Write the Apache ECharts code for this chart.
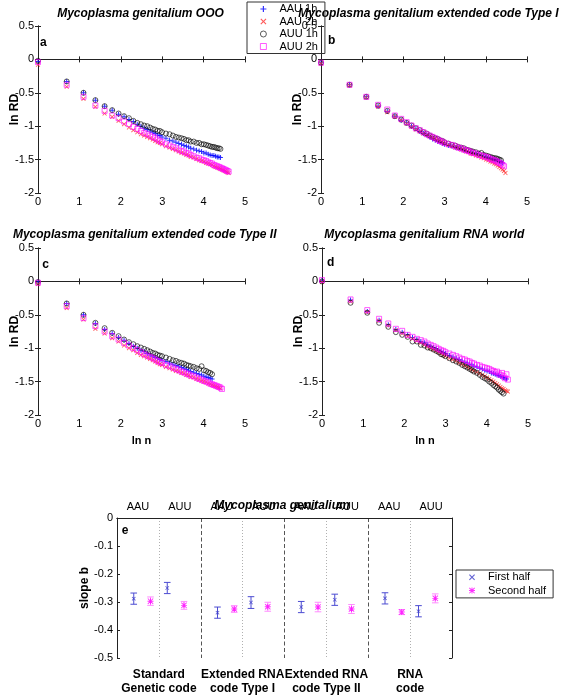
<!DOCTYPE html>
<html><head><meta charset="utf-8">
<script src="https://cdn.jsdelivr.net/npm/echarts@6/dist/echarts.min.js"></script>
<style>html,body{margin:0;padding:0;background:#fff}#c{width:561px;height:696px}</style>
</head><body><div id="c"></div>
<script>
const FONT = '"Liberation Sans", Arial, Helvetica, sans-serif';

// x values: ln n
const lnN = [0,0.693,1.099,1.386,1.609,1.792,1.946,2.079,2.197,2.303,2.398,2.485,2.565,2.639,2.708,2.773,2.833,2.890,2.944,2.996,3.091,3.178,3.258,3.332,3.401,3.466,3.526,3.584,3.638,3.689,3.761,3.829,3.892,3.951,4.007,4.060,4.111,4.159,4.205,4.248,4.290,4.331,4.369,4.407,4.443,4.477,4.511,4.543,4.575,4.605];

// panel a
const a_AAU1h = [-0.03,-0.33,-0.50,-0.61,-0.70,-0.76,-0.82,-0.86,-0.90,-0.93,-0.97,-1.00,-1.03,-1.05,-1.07,-1.09,-1.11,-1.13,-1.14,-1.16,-1.18,-1.21,-1.22,-1.24,-1.26,-1.27,-1.29,-1.30,-1.31,-1.33,-1.34,-1.36,-1.37,-1.38,-1.40,-1.40,-1.42,-1.43,-1.44,-1.44,-1.45,-1.46,-1.46,-1.47];
const a_AAU2h = [-0.08,-0.41,-0.59,-0.71,-0.81,-0.86,-0.92,-0.97,-1.02,-1.06,-1.09,-1.12,-1.14,-1.16,-1.18,-1.20,-1.22,-1.24,-1.25,-1.27,-1.30,-1.32,-1.34,-1.36,-1.38,-1.40,-1.41,-1.43,-1.44,-1.46,-1.47,-1.49,-1.51,-1.52,-1.53,-1.55,-1.56,-1.57,-1.58,-1.60,-1.61,-1.62,-1.63,-1.64,-1.65,-1.66,-1.67,-1.68,-1.69,-1.70];
const a_AUU1h = [-0.02,-0.33,-0.50,-0.61,-0.70,-0.76,-0.81,-0.85,-0.88,-0.92,-0.95,-0.97,-0.99,-1.00,-1.02,-1.04,-1.05,-1.07,-1.07,-1.09,-1.11,-1.12,-1.14,-1.16,-1.17,-1.18,-1.19,-1.21,-1.21,-1.23,-1.23,-1.25,-1.25,-1.27,-1.27,-1.28,-1.29,-1.30,-1.31,-1.31,-1.32,-1.33,-1.33,-1.34];
const a_AUU2h = [-0.04,-0.38,-0.56,-0.69,-0.77,-0.84,-0.88,-0.93,-0.97,-1.01,-1.04,-1.07,-1.10,-1.12,-1.14,-1.16,-1.18,-1.20,-1.22,-1.24,-1.27,-1.29,-1.31,-1.33,-1.35,-1.37,-1.38,-1.40,-1.41,-1.43,-1.45,-1.47,-1.48,-1.50,-1.51,-1.52,-1.54,-1.55,-1.56,-1.58,-1.59,-1.60,-1.61,-1.62,-1.63,-1.64,-1.65,-1.66,-1.67,-1.68];
// panel b
const b_AAU1h = [-0.05,-0.38,-0.56,-0.70,-0.78,-0.85,-0.91,-0.95,-1.00,-1.04,-1.08,-1.11,-1.13,-1.16,-1.19,-1.21,-1.23,-1.24,-1.26,-1.27,-1.29,-1.30,-1.32,-1.33,-1.34,-1.36,-1.37,-1.38,-1.39,-1.40,-1.41,-1.43,-1.44,-1.45,-1.46,-1.47,-1.48,-1.49,-1.50,-1.51,-1.52,-1.53,-1.54,-1.55];
const b_AAU2h = [-0.06,-0.39,-0.57,-0.71,-0.79,-0.86,-0.91,-0.96,-1.01,-1.05,-1.08,-1.11,-1.13,-1.15,-1.17,-1.19,-1.21,-1.23,-1.24,-1.26,-1.28,-1.30,-1.32,-1.33,-1.35,-1.36,-1.38,-1.39,-1.41,-1.42,-1.44,-1.45,-1.47,-1.48,-1.50,-1.51,-1.53,-1.54,-1.56,-1.57,-1.59,-1.61,-1.63,-1.65,-1.67,-1.70];
const b_AUU1h = [-0.05,-0.38,-0.56,-0.69,-0.77,-0.85,-0.90,-0.95,-0.99,-1.03,-1.06,-1.09,-1.11,-1.14,-1.16,-1.18,-1.19,-1.21,-1.22,-1.24,-1.26,-1.28,-1.29,-1.31,-1.32,-1.33,-1.35,-1.36,-1.37,-1.38,-1.39,-1.41,-1.40,-1.43,-1.44,-1.45,-1.46,-1.47,-1.48,-1.48,-1.49,-1.50,-1.51];
const b_AUU2h = [-0.05,-0.38,-0.56,-0.68,-0.75,-0.84,-0.89,-0.94,-0.99,-1.03,-1.06,-1.09,-1.12,-1.14,-1.16,-1.18,-1.20,-1.22,-1.23,-1.25,-1.27,-1.28,-1.30,-1.32,-1.33,-1.35,-1.36,-1.37,-1.39,-1.40,-1.41,-1.43,-1.44,-1.45,-1.46,-1.47,-1.49,-1.50,-1.51,-1.52,-1.54,-1.55,-1.56,-1.58,-1.60];
// panel c
const c_AAU1h = [-0.01,-0.33,-0.50,-0.63,-0.72,-0.78,-0.84,-0.88,-0.93,-0.97,-1.00,-1.03,-1.05,-1.08,-1.10,-1.12,-1.14,-1.15,-1.17,-1.18,-1.20,-1.22,-1.24,-1.26,-1.27,-1.29,-1.30,-1.32,-1.33,-1.35,-1.36,-1.38,-1.39,-1.40,-1.42,-1.43,-1.44,-1.45,-1.46];
const c_AAU2h = [-0.04,-0.40,-0.57,-0.71,-0.78,-0.85,-0.90,-0.96,-1.00,-1.03,-1.07,-1.10,-1.12,-1.14,-1.16,-1.18,-1.20,-1.22,-1.24,-1.25,-1.28,-1.30,-1.32,-1.34,-1.35,-1.37,-1.38,-1.40,-1.41,-1.43,-1.44,-1.46,-1.47,-1.49,-1.50,-1.51,-1.53,-1.54,-1.55,-1.56,-1.57,-1.58,-1.59,-1.60];
const c_AUU1h = [-0.01,-0.33,-0.50,-0.62,-0.70,-0.77,-0.82,-0.87,-0.91,-0.94,-0.97,-0.99,-1.01,-1.03,-1.05,-1.07,-1.08,-1.10,-1.11,-1.12,-1.14,-1.16,-1.18,-1.19,-1.21,-1.22,-1.23,-1.25,-1.26,-1.27,-1.28,-1.30,-1.31,-1.27,-1.33,-1.34,-1.36,-1.37,-1.39];
const c_AUU2h = [-0.02,-0.37,-0.55,-0.67,-0.75,-0.82,-0.87,-0.92,-0.96,-1.00,-1.03,-1.06,-1.09,-1.11,-1.13,-1.15,-1.17,-1.19,-1.21,-1.22,-1.25,-1.27,-1.29,-1.31,-1.33,-1.35,-1.36,-1.38,-1.39,-1.41,-1.42,-1.44,-1.46,-1.47,-1.49,-1.50,-1.51,-1.53,-1.54,-1.55,-1.56,-1.57,-1.58,-1.59,-1.61];
// panel d
const d_AAU1h = [0.01,-0.28,-0.45,-0.58,-0.65,-0.72,-0.76,-0.80,-0.84,-0.87,-0.90,-0.92,-0.95,-0.97,-0.99,-1.01,-1.03,-1.05,-1.06,-1.08,-1.11,-1.13,-1.15,-1.17,-1.19,-1.21,-1.22,-1.24,-1.25,-1.27,-1.28,-1.30,-1.31,-1.33,-1.34,-1.35,-1.37,-1.38,-1.39,-1.40,-1.41,-1.42,-1.43,-1.44,-1.45,-1.46];
const d_AAU2h = [-0.01,-0.30,-0.46,-0.59,-0.66,-0.73,-0.78,-0.82,-0.86,-0.89,-0.92,-0.95,-0.98,-1.00,-1.02,-1.04,-1.06,-1.08,-1.10,-1.12,-1.15,-1.17,-1.19,-1.22,-1.24,-1.26,-1.28,-1.30,-1.32,-1.34,-1.36,-1.38,-1.40,-1.42,-1.44,-1.46,-1.48,-1.50,-1.52,-1.54,-1.56,-1.58,-1.60,-1.61,-1.63,-1.64,-1.65];
const d_AUU1h = [0.00,-0.32,-0.47,-0.62,-0.68,-0.76,-0.80,-0.83,-0.90,-0.90,-0.95,-0.96,-0.99,-1.00,-1.02,-1.04,-1.06,-1.09,-1.10,-1.12,-1.15,-1.18,-1.20,-1.22,-1.25,-1.27,-1.29,-1.31,-1.33,-1.35,-1.37,-1.40,-1.43,-1.45,-1.47,-1.50,-1.52,-1.55,-1.57,-1.59,-1.62,-1.64,-1.66,-1.68];
const d_AUU2h = [0.02,-0.27,-0.43,-0.56,-0.63,-0.71,-0.74,-0.80,-0.83,-0.86,-0.88,-0.90,-0.93,-0.95,-0.97,-0.99,-1.01,-1.03,-1.04,-1.06,-1.08,-1.10,-1.12,-1.14,-1.16,-1.17,-1.19,-1.20,-1.22,-1.23,-1.25,-1.26,-1.28,-1.29,-1.30,-1.31,-1.33,-1.34,-1.36,-1.35,-1.38,-1.40,-1.37,-1.42,-1.45,-1.39,-1.47];

const panelTitles = ['Mycoplasma genitalium OOO','Mycoplasma genitalium extended code Type I','Mycoplasma genitalium extended code Type II','Mycoplasma genitalium RNA world'];
const panelLetters = ['a','b','c','d','e'];
const seriesNames = ['AAU 1h','AAU 2h','AUU 1h','AUU 2h'];
const panelData = [
  [a_AAU1h, a_AAU2h, a_AUU1h, a_AUU2h],
  [b_AAU1h, b_AAU2h, b_AUU1h, b_AUU2h],
  [c_AAU1h, c_AAU2h, c_AUU1h, c_AUU2h],
  [d_AAU1h, d_AAU2h, d_AUU1h, d_AUU2h]
];
const xTicksLnN = [0,1,2,3,4,5];

// panel e: slope b
const eSubLabels = ['AAU','AUU','AAU','AUU','AAU','AUU','AAU','AUU'];
const eGroupLabels = ['Standard\nGenetic code','Extended RNA\ncode Type I','Extended RNA\ncode Type II','RNA\ncode'];
const eFirstX = [0.4,1.2,2.4,3.2,4.4,5.2,6.4,7.2];
const eFirstVal = [-0.288,-0.250,-0.338,-0.302,-0.318,-0.292,-0.287,-0.333];
const eFirstErr = [0.020,0.020,0.020,0.021,0.020,0.020,0.020,0.020];
const eSecondX = [0.8,1.6,2.8,3.6,4.8,5.6,6.8,7.6];
const eSecondVal = [-0.297,-0.312,-0.325,-0.317,-0.318,-0.325,-0.336,-0.287];
const eSecondErr = [0.015,0.014,0.012,0.016,0.017,0.016,0.009,0.016];

const PLUS = 'path://M4,0H6V4H10V6H6V10H4V6H0V4H4Z';
const CROSS = 'path://M0,1.3L1.3,0L5,3.7L8.7,0L10,1.3L6.3,5L10,8.7L8.7,10L5,6.3L1.3,10L0,8.7L3.7,5Z';
const STAR = 'path://M4.2,0H5.8V4.2H10V5.8H5.8V10H4.2V5.8H0V4.2H4.2Z M0,1.1 L1.1,0 L10,8.9 L8.9,10Z M8.9,0 L10,1.1 L1.1,10 L0,8.9Z';
const TRANSP = 'rgba(0,0,0,0)';
const RED = '#ff3030';
const sStyles = [
  {symbol: PLUS, symbolSize: 5, itemStyle: {color: '#0000ff'}},
  {symbol: CROSS, symbolSize: 4.5, itemStyle: {color: RED}},
  {symbol: 'circle', symbolSize: 5, itemStyle: {color: TRANSP, borderColor: '#000', borderWidth: 0.8}},
  {symbol: 'rect', symbolSize: 5, itemStyle: {color: TRANSP, borderColor: '#ff00ff', borderWidth: 0.8}}
];

const grids = [
  {left: 38, top: 26, width: 207, height: 167},
  {left: 321, top: 26, width: 206, height: 167},
  {left: 38, top: 248, width: 207, height: 167},
  {left: 322, top: 248, width: 206, height: 167},
  {left: 117, top: 518, width: 335, height: 141}
];
const AX = '#222';
const xAxes = [], yAxes = [], series = [];
for (let p = 0; p < 4; p++) {
  const showName = p >= 2;
  xAxes.push({gridIndex: p, type: 'value', position: 'bottom', min: xTicksLnN[0], max: xTicksLnN[xTicksLnN.length-1], interval: 1,
    name: showName ? 'ln n' : '', nameLocation: 'middle', nameGap: 20, nameMoveOverlap: false,
    nameTextStyle: {fontFamily: FONT, fontWeight: 'bold', fontSize: 11, color: '#000'},
    axisLine: {show: true, lineStyle: {color: AX, width: 1}},
    axisTick: {show: true, inside: true, length: 3, lineStyle: {color: AX}},
    axisLabel: {show: true, margin: 3, fontSize: 11, fontFamily: FONT, color: '#000'},
    splitLine: {show: false}});
  xAxes.push({gridIndex: p, type: 'value', position: 'top', min: 0, max: 5, interval: 1,
    axisLine: {show: true, lineStyle: {color: AX, width: 1}},
    axisTick: {show: true, inside: true, length: 3, lineStyle: {color: AX}},
    axisLabel: {show: false}, splitLine: {show: false}});
  yAxes.push({gridIndex: p, type: 'value', position: 'left', min: -2, max: 0.5, interval: 0.5,
    name: 'ln RD', nameLocation: 'middle', nameRotate: 90, nameGap: 17, nameMoveOverlap: false,
    nameTextStyle: {fontFamily: FONT, fontWeight: 'bold', fontSize: 12, color: '#000'},
    axisLine: {show: true, lineStyle: {color: AX, width: 1}},
    axisTick: {show: true, inside: true, length: 3, lineStyle: {color: AX}},
    axisLabel: {show: true, margin: 4, fontSize: 11, fontFamily: FONT, color: '#000'},
    splitLine: {show: false}});
  yAxes.push({gridIndex: p, type: 'value', position: 'right', min: -2, max: 0.5, interval: 0.5,
    axisLine: {show: true, lineStyle: {color: AX, width: 1}},
    axisTick: {show: true, inside: true, length: 3, lineStyle: {color: AX}},
    axisLabel: {show: false}, splitLine: {show: false}});
  for (let s = 0; s < 4; s++) {
    const ys = panelData[p][s];
    series.push(Object.assign({
      type: 'scatter', name: seriesNames[s], xAxisIndex: 2*p, yAxisIndex: 2*p, silent: true,
      data: ys.map((y, i) => [lnN[i], y]), z: 2 + s
    }, sStyles[s]));
  }
}
// panel e axes
xAxes.push({gridIndex: 4, type: 'value', position: 'bottom', min: 0, max: 8,
  axisLine: {show: true, lineStyle: {color: AX}}, axisTick: {show: false}, axisLabel: {show: false}, splitLine: {show: false}});
xAxes.push({gridIndex: 4, type: 'category', position: 'top', data: eSubLabels, boundaryGap: true,
  axisLine: {show: true, lineStyle: {color: AX}}, axisTick: {show: false},
  axisLabel: {show: true, interval: 0, margin: 6, fontSize: 11, fontFamily: FONT, color: '#000'},
  splitLine: {show: true, interval: (i) => i % 2 === 1, lineStyle: {color: '#b0b0b0', type: [1, 2], width: 1}}});
xAxes.push({gridIndex: 4, type: 'category', position: 'bottom', data: eGroupLabels, boundaryGap: true,
  axisLine: {show: false}, axisTick: {show: false},
  axisLabel: {show: true, interval: 0, margin: 10, fontSize: 12, fontWeight: 'bold', lineHeight: 14, fontFamily: FONT, color: '#000'},
  splitLine: {show: true, interval: 0, lineStyle: {color: '#555', type: [4, 2.5], width: 1}}});
yAxes.push({gridIndex: 4, type: 'value', position: 'left', min: -0.5, max: 0, interval: 0.1,
  name: 'slope b', nameLocation: 'middle', nameRotate: 90, nameGap: 26, nameMoveOverlap: false,
  nameTextStyle: {fontFamily: FONT, fontWeight: 'bold', fontSize: 12, color: '#000'},
  axisLine: {show: true, lineStyle: {color: AX}},
  axisTick: {show: true, inside: true, length: 3, lineStyle: {color: AX}},
  axisLabel: {show: true, margin: 4, fontSize: 11, fontFamily: FONT, color: '#000'},
  splitLine: {show: false}});
yAxes.push({gridIndex: 4, type: 'value', position: 'right', min: -0.5, max: 0, interval: 0.1,
  axisLine: {show: true, lineStyle: {color: AX}},
  axisTick: {show: true, inside: true, length: 3, lineStyle: {color: AX}},
  axisLabel: {show: false}, splitLine: {show: false}});

function errBar(color) {
  return function (params, api) {
    const x = api.value(0), y = api.value(1), e = api.value(2);
    const t = api.coord([x, y + e]), b = api.coord([x, y - e]);
    const hw = 3.3;
    const st = {stroke: color, lineWidth: 1};
    return {type: 'group', children: [
      {type: 'line', shape: {x1: t[0], y1: t[1], x2: b[0], y2: b[1]}, style: st},
      {type: 'line', shape: {x1: t[0]-hw, y1: t[1], x2: t[0]+hw, y2: t[1]}, style: st},
      {type: 'line', shape: {x1: b[0]-hw, y1: b[1], x2: b[0]+hw, y2: b[1]}, style: st}
    ]};
  };
}
const E_BLUE = '#3a3ac8', E_BLUE_BAR = '#4b4bd2', E_MAG = '#ff00ff', E_MAG_BAR = '#ff8cff';
series.push({type: 'custom', name: 'fh-bars', xAxisIndex: 8, yAxisIndex: 8, silent: true,
  renderItem: errBar(E_BLUE_BAR), data: eFirstX.map((x, i) => [x, eFirstVal[i], eFirstErr[i]])});
series.push({type: 'custom', name: 'sh-bars', xAxisIndex: 8, yAxisIndex: 8, silent: true,
  renderItem: errBar(E_MAG_BAR), data: eSecondX.map((x, i) => [x, eSecondVal[i], eSecondErr[i]])});
series.push({type: 'scatter', name: 'First half', xAxisIndex: 8, yAxisIndex: 8, silent: true, z: 5,
  symbol: CROSS, symbolSize: 4, itemStyle: {color: E_BLUE},
  data: eFirstX.map((x, i) => [x, eFirstVal[i]])});
series.push({type: 'scatter', name: 'Second half', xAxisIndex: 8, yAxisIndex: 8, silent: true, z: 5,
  symbol: STAR, symbolSize: 6, itemStyle: {color: E_MAG},
  data: eSecondX.map((x, i) => [x, eSecondVal[i]])});

const titlePos = [[140.5, 13.3], [428.5, 13.3], [144.7, 235], [424.2, 235]];
const letterPos = [[43.3, 42.7], [331.7, 40.7], [45.7, 264.3], [330.7, 262.7], [125, 530.7]];
const graphic = [];
panelTitles.forEach((t, i) => graphic.push({type: 'text', x: titlePos[i][0], y: titlePos[i][1], silent: true,
  style: {text: t, font: 'italic bold 12px ' + FONT, fill: '#000', align: 'center', verticalAlign: 'middle'}}));
panelLetters.forEach((t, i) => graphic.push({type: 'text', x: letterPos[i][0], y: letterPos[i][1], silent: true,
  style: {text: t, font: 'bold 12px ' + FONT, fill: '#000', align: 'center', verticalAlign: 'middle'}}));
graphic.push({type: 'text', x: 282, y: 505.7, silent: true,
  style: {text: 'Mycoplasma genitalium', font: 'italic bold 12px ' + FONT, fill: '#000', align: 'center', verticalAlign: 'middle'}});

const option = {
  animation: false,
  backgroundColor: '#fff',
  textStyle: {fontFamily: FONT},
  grid: grids,
  xAxis: xAxes,
  yAxis: yAxes,
  legend: [
    {orient: 'vertical', left: 247, top: 2, selectedMode: false, itemWidth: 6, itemHeight: 6, itemGap: 1.5,
     padding: [1.5, 7, 1.5, 13], borderColor: '#333', borderWidth: 1, backgroundColor: 'transparent',
     textStyle: {fontSize: 11, fontFamily: FONT, color: '#000', padding: [0, 0, 0, 8]},
     data: [
       {name: 'AAU 1h', icon: PLUS, itemStyle: {color: '#0000ff', borderWidth: 0}},
       {name: 'AAU 2h', icon: CROSS, itemStyle: {color: RED, borderWidth: 0}},
       {name: 'AUU 1h', icon: 'circle', itemStyle: {color: TRANSP, borderColor: '#000', borderWidth: 0.8}},
       {name: 'AUU 2h', icon: 'rect', itemStyle: {color: TRANSP, borderColor: '#ff00ff', borderWidth: 0.8}}
     ]},
    {orient: 'vertical', left: 456, top: 570, selectedMode: false, itemWidth: 6, itemHeight: 6, itemGap: 2.3,
     padding: [1.8, 7, 1.8, 13], borderColor: '#333', borderWidth: 1, backgroundColor: '#fff',
     textStyle: {fontSize: 11, fontFamily: FONT, color: '#000', padding: [0, 0, 0, 8]},
     data: [
       {name: 'First half', icon: CROSS, itemStyle: {color: E_BLUE, borderWidth: 0}},
       {name: 'Second half', icon: STAR, itemStyle: {color: E_MAG, borderWidth: 0}}
     ]}
  ],
  graphic: graphic,
  series: series
};
const chart = echarts.init(document.getElementById('c'), null, {renderer: 'canvas', width: 561, height: 696});
chart.setOption(option);
</script>
</body></html>
